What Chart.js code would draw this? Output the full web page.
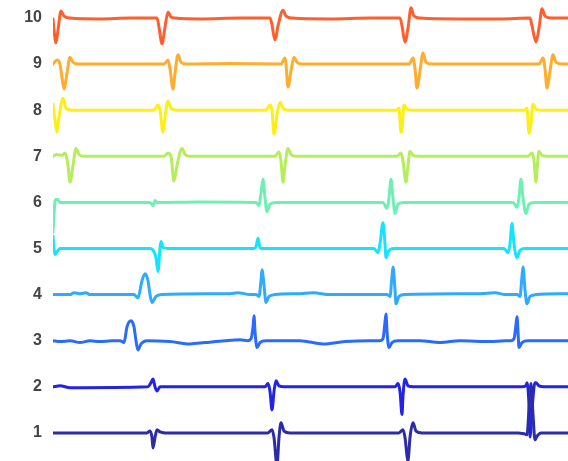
<!DOCTYPE html>
<html>
<head>
<meta charset="utf-8">
<script src="https://cdn.jsdelivr.net/npm/chart.js@4"></script>
<style>
  html, body { margin: 0; padding: 0; background: #fff; }
  #wrap { width: 568px; height: 461px; }
</style>
</head>
<body>
<div id="wrap"><canvas id="ecg"></canvas></div>
<script>
// Channel numbers (y tick labels) and the colour of each channel
const channels = [1, 2, 3, 4, 5, 6, 7, 8, 9, 10];
const channelColors = [
  '#2c2ca8', '#2323e6', '#2a6bff', '#2eaaff', '#14e4ff',
  '#6ef0b4', '#b4ee5a', '#ffee14', '#ffad2e', '#ff5f2e'
];

// Each trace: [time sample, amplitude relative to its own baseline]
const trace1 = [[53,0],[140,0],[147,0],[150,0.04],[152,-0.1],[153,-0.33],[155,-0.1],[157,0.07],[160,0.02],[165,0],
  [268,0],[272,0.07],[274,-0.1],[277,-0.7],[279,-0.1],[281,0.22],[284,0.04],[290,0],
  [399,0],[403,0.07],[405,-0.1],[408,-0.62],[410,-0.1],[413,0.22],[416,0.04],[422,0],
  [518,0],[524,-0.02],[527,-0.04],[529,0.5],[531,1.07],[533,0.4],[535,-0.15],[537,-0.07],[541,0],[568,0]];
const trace2 = [[53,0],[60,0.02],[70,-0.02],[148,0],[151,0.09],[153,0.17],[155,0],[157,-0.09],[160,0],
  [265,0],[268,0.07],[270,-0.1],[272,-0.5],[274,-0.1],[276,0.13],[279,0.02],[284,0],
  [395,0],[398,0.07],[400,-0.1],[402,-0.6],[403,-0.2],[405,0.17],[408,0.02],[413,0],
  [522,0],[526,0.02],[527,0.09],[529,-0.4],[530,-1.09],[532,-0.5],[535,0.09],[536,0.09],[539,0.02],[544,0],[568,0]];
const trace3 = [[53,0],[60,-0.02],[70,0],[80,-0.04],[90,0],[100,-0.02],[112,0],
  [120,0],[124,-0.04],[127,0.3],[131,0.43],[134,0.3],[136,0],[138,-0.2],[141,-0.07],[147,0],
  [170,-0.02],[190,-0.07],[205,-0.04],[225,0],[240,0.02],
  [248,0],[251,0.04],[253,0.3],[254,0.54],[255,0.2],[257,-0.15],[260,-0.04],[266,0],
  [300,0],[323,-0.07],[345,-0.02],[370,0],
  [380,0],[383,0.04],[385,0.4],[386,0.58],[387,0.2],[389,-0.15],[392,-0.04],[398,0],
  [420,0],[440,-0.04],[460,0],[490,-0.02],[505,0],
  [511,0],[514,0.04],[516,0.35],[517,0.52],[518,0.2],[519,-0.15],[522,-0.04],[528,0],[568,0]];
const trace4 = [[53,0],[70,0],[74,0.04],[80,0.02],[86,0.04],[90,0],
  [134,0],[138,-0.07],[142,0.3],[145,0.45],[148,0.3],[150,0],[152,-0.17],[156,-0.04],[162,0],
  [230,0.02],[238,0.04],[250,0],
  [256,0],[259,-0.04],[261,0.3],[262,0.54],[264,0.2],[266,-0.17],[269,-0.04],[275,0],
  [300,0.02],[313,0.04],[330,0],
  [387,0],[390,-0.04],[392,0.4],[393,0.6],[395,0.1],[396,-0.2],[399,-0.04],[405,0],
  [480,0.02],[495,0.04],[505,0],
  [517,0],[520,-0.04],[522,0.4],[523,0.6],[525,0.1],[527,-0.2],[530,-0.04],[536,0],[568,0.02]];
const trace5 = [[53,0.26],[54,0],[55,-0.13],[57,-0.07],[60,0],
  [150,0],[154,-0.07],[156,-0.2],[158,-0.5],[160,0],[161,0.15],[163,0.02],[168,0],
  [254,0],[256,0.04],[258,0.22],[260,0.02],[262,0],
  [374,0],[378,-0.09],[380,0.1],[383,0.56],[385,0.1],[386,-0.2],[389,-0.04],[394,0],
  [504,0],[508,-0.09],[510,0.1],[512,0.54],[514,0.1],[517,-0.2],[520,-0.04],[525,0],[568,0]];
const trace6 = [[53,-0.65],[54,-0.3],[55,0.04],[57,0.07],[60,0],[100,0],
  [150,0],[153,-0.07],[155,0.04],[157,0],[200,0.01],
  [256,0],[259,-0.07],[261,0.2],[263,0.5],[265,0.1],[267,-0.2],[270,-0.04],[276,0],[330,0],
  [383,0],[387,-0.13],[389,0.1],[391,0.5],[393,0.1],[395,-0.24],[398,-0.04],[404,0],[460,0],
  [513,0],[517,-0.11],[519,0.1],[521,0.5],[523,0.1],[526,-0.24],[529,-0.04],[535,0],[568,0]];
const trace7 = [[53,0],[57,0.04],[62,0.02],[65,0.07],[68,-0.2],[70,-0.56],[73,-0.2],[76,0.17],[79,0.04],[84,0],
  [164,0],[168,0.07],[171,0],[174,-0.54],[177,-0.2],[182,0.17],[185,0.04],[190,0],
  [275,0],[279,0.1],[281,-0.1],[283,-0.56],[285,-0.2],[288,0.17],[291,0.04],[296,0],
  [397,0],[401,0.07],[403,-0.1],[406,-0.56],[408,-0.2],[410,0.11],[413,0.02],[418,0],
  [528,0],[532,0.07],[534,-0.1],[536,-0.56],[537,-0.3],[539,0.11],[542,0.02],[547,0],[568,0]];
const trace8 = [[53,0.13],[55,-0.2],[57,-0.48],[59,-0.15],[63,0.26],[66,0.04],[72,0],
  [154,0],[158,0.11],[160,0],[163,-0.48],[165,-0.15],[168,0.2],[171,0.04],[177,0],
  [266,0],[270,0.11],[272,0],[274,-0.52],[277,-0.1],[280,0.17],[283,0.04],[288,0],
  [396,0],[399,0.04],[401,-0.48],[402,-0.4],[404,0.11],[407,0.02],[412,0],
  [524,0],[527,0.04],[529,-0.5],[531,-0.3],[533,0.13],[536,0.02],[541,0],[568,0]];
const trace9 = [[53,0],[57,0.09],[60,0],[62,-0.3],[64,-0.54],[67,-0.2],[70,0.15],[73,0.04],[78,0],[120,0],
  [164,0],[168,0.09],[170,-0.1],[173,-0.54],[175,-0.2],[178,0.2],[181,0.04],[186,0],[230,0.01],
  [281,0],[285,0.13],[286,0],[288,-0.5],[291,-0.15],[294,0.15],[297,0.04],[302,0],[350,0],
  [409,0],[413,0.13],[415,-0.1],[417,-0.52],[420,-0.15],[423,0.24],[426,0.04],[432,0],[480,0],
  [539,0],[543,0.13],[545,-0.1],[547,-0.52],[550,-0.15],[553,0.2],[556,0.04],[562,0],[568,0]];
const trace10 = [[53,-0.02],[54,-0.26],[56,-0.54],[58,-0.26],[61,0.15],[64,0.04],[70,0],[100,-0.02],[130,0],
  [157,0],[159,-0.2],[162,-0.56],[165,-0.2],[168,0.13],[171,0.02],[175,0],[200,-0.02],[240,0],
  [270,0],[272,-0.15],[275,-0.48],[278,-0.17],[283,0.17],[286,0.04],[292,0],[330,-0.02],[370,0],
  [400,0],[402,-0.17],[405,-0.52],[408,-0.22],[411,0.22],[414,0.04],[420,0],[460,-0.02],[500,-0.02],
  [530,0],[532,-0.17],[536,-0.52],[539,-0.22],[542,0.2],[545,0.04],[552,0],[568,0]];

const traces = [trace1, trace2, trace3, trace4, trace5, trace6, trace7, trace8, trace9, trace10];

// Build one line per channel, shifted up to its channel number
const datasets = traces.map((trace, i) => ({
  label: 'Channel ' + channels[i],
  data: trace.map(p => ({ x: p[0], y: channels[i] + p[1] })),
  borderColor: channelColors[i],
  borderWidth: 3,
  pointRadius: 0,
  showLine: true,
  cubicInterpolationMode: 'monotone',
  borderJoinStyle: 'round',
  borderCapStyle: 'round',
  fill: false
}));

new Chart(document.getElementById('ecg'), {
  type: 'scatter',
  data: { datasets: datasets },
  options: {
    responsive: true,
    maintainAspectRatio: false,
    animation: false,
    layout: { padding: 0 },
    plugins: {
      legend: { display: false },
      tooltip: { enabled: false }
    },
    scales: {
      x: {
        type: 'linear',
        min: 53,
        max: 568,
        display: false
      },
      y: {
        min: 0.39,
        max: 10.39,
        afterBuildTicks: function(axis) {
          axis.ticks = channels.map(v => ({ value: v }));
        },
        afterFit: function(axis) {
          // labels sit inside the range, no need for extra room above/below
          axis.width = 53;
          axis.paddingTop = 0;
          axis.paddingBottom = 0;
        },
        grid: { display: false, drawTicks: false },
        border: { display: false },
        ticks: {
          padding: 11,
          color: '#444',
          font: { family: 'Liberation Sans', size: 16, weight: 'bold' }
        }
      }
    }
  }
});
</script>
</body>
</html>
